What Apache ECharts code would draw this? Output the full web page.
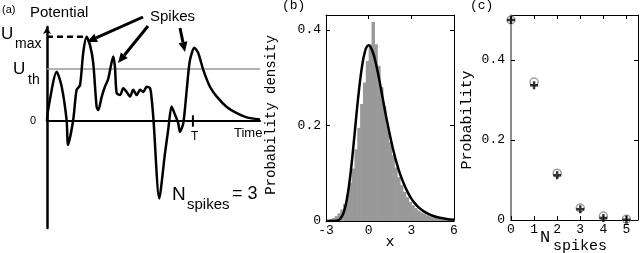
<!DOCTYPE html>
<html><head><meta charset="utf-8">
<script src="https://cdn.jsdelivr.net/npm/echarts@6/dist/echarts.min.js"></script>
<style>html,body{margin:0;padding:0;background:#fff}#c{width:640px;height:253px}</style>
</head><body><div id="c"></div>
<script>
// ---------- Panel (a): schematic potential trace ----------
const traceTime = [0, 0.05, 0.455, 0.69, 0.92, 0.99, 1.23, 1.39, 1.55, 1.70, 1.86, 2.02, 2.17, 2.33, 2.41, 2.57, 2.72, 2.86, 2.96, 3.11, 3.19, 3.27, 3.43, 3.58, 3.74, 3.90, 4.05, 4.21, 4.37, 4.52, 4.68, 4.84, 4.92, 5.0, 5.27, 5.54, 5.69, 5.85, 6.01, 6.16, 6.24, 6.40, 6.56, 6.71, 6.92, 7.10, 7.34, 7.65, 7.97, 8.44, 8.91, 9.38, 10.0];
const tracePotential = [0, 0.21, 0.95, 0.66, 0.02, -0.46, 0.02, 0.60, 0.69, 1.31, 1.62, 1.46, 1.12, 0.27, 0.21, 0.47, 0.66, 0.79, 0.98, 1.24, 1.04, 0.54, 0.50, 0.63, 0.56, 0.47, 0.60, 0.50, 0.60, 0.56, 0.66, 0.63, 0.40, 0.02, -1.49, -0.62, -0.17, 0.28, 0.12, -0.04, -0.21, -0.04, 0.60, 1.17, 1.41, 1.31, 0.98, 0.66, 0.47, 0.27, 0.15, 0.07, 0.03];
const uThreshold = 1.0;
const uMax = 1.62;
const tMaxPeak = 1.86;
const tObservation = 6.85;

// ---------- Panel (b): histogram + density ----------
const histStart = -3;
const histBinWidth = 0.2;
const histDensity = [0.002, 0.004, 0.006, 0.010, 0.016, 0.024, 0.036, 0.055, 0.080, 0.110, 0.150, 0.195, 0.245, 0.290, 0.335, 0.370, 0.417, 0.370, 0.325, 0.280, 0.240, 0.200, 0.165, 0.138, 0.112, 0.092, 0.075, 0.061, 0.050, 0.040, 0.033, 0.027, 0.022, 0.018, 0.015, 0.012, 0.010, 0.008, 0.0065, 0.005, 0.004, 0.0033, 0.0026, 0.002, 0.0015];
const curveX = [-3, -2.75, -2.5, -2.25, -2, -1.75, -1.5, -1.25, -1, -0.75, -0.5, -0.25, 0, 0.25, 0.5, 0.75, 1, 1.25, 1.5, 1.75, 2, 2.25, 2.5, 2.75, 3, 3.25, 3.5, 3.75, 4, 4.5, 5, 5.5, 6];
const curveDensity = [0, 0, 0.0001, 0.0007, 0.0046, 0.018, 0.051, 0.106, 0.179, 0.255, 0.317, 0.356, 0.368, 0.357, 0.331, 0.295, 0.255, 0.215, 0.179, 0.146, 0.118, 0.095, 0.076, 0.060, 0.047, 0.037, 0.029, 0.023, 0.018, 0.011, 0.0067, 0.0041, 0.0025];

// ---------- Panel (c): spike-count probabilities ----------
const nSpikes = [0, 1, 2, 3, 4, 5];
const probCircle = [0.5, 0.345, 0.117, 0.030, 0.010, 0.002];
const probPlus = [0.5, 0.337, 0.112, 0.027, 0.005, 0.001];

const SANS = 'Liberation Sans';
const MONO = 'Liberation Mono';

const histBins = histDensity.map((v, i) => [histStart + i * histBinWidth, histStart + (i + 1) * histBinWidth, v]);

function arrow(x1, y1, x2, y2) {
  const ang = Math.atan2(y2 - y1, x2 - x1);
  const L = 10, W = 4.5;
  const bx = x2 - L * Math.cos(ang), by = y2 - L * Math.sin(ang);
  const px = -Math.sin(ang) * W, py = Math.cos(ang) * W;
  return [
    {type: 'line', shape: {x1, y1, x2: bx, y2: by}, style: {stroke: '#000', lineWidth: 3}},
    {type: 'polygon', shape: {points: [[x2, y2], [bx + px, by + py], [bx - px, by - py]]}, style: {fill: '#000'}}
  ];
}
function txt(x, y, text, size, family, align, rot) {
  return {type: 'text', x, y, rotation: rot || 0, style: {text, font: size + 'px "' + family + '"', fill: '#000', align: align || 'left', verticalAlign: 'middle'}};
}

const plusPath = 'path://M3.5,0h3v3.5h3.5v3h-3.5v3.5h-3v-3.5h-3.5v-3h3.5z';
const monoLabel = {fontFamily: MONO, fontSize: 13, color: '#000', showMaxLabel: false};
const boxTick = {inside: true, length: 4, lineStyle: {color: '#000'}};
const noLabel = {show: false};
const noSplit = {show: false};

const option = {
  animation: false,
  grid: [
    {left: 47, top: 27, width: 213, height: 201},
    {left: 326, top: 15, width: 128, height: 206},
    {left: 511, top: 15, width: 127, height: 205}
  ],
  xAxis: [
    {gridIndex: 0, type: 'value', min: 0, max: 10, axisLine: {onZero: true, lineStyle: {color: '#000', width: 2}}, axisTick: {show: false}, axisLabel: noLabel, splitLine: noSplit},
    {gridIndex: 1, type: 'value', min: -3, max: 6, interval: 3, axisLine: {onZero: false, lineStyle: {color: '#000', width: 1}}, axisTick: boxTick, axisLabel: Object.assign({}, monoLabel, {margin: 3, showMaxLabel: true}), splitLine: noSplit},
    {gridIndex: 1, type: 'value', position: 'top', min: -3, max: 6, interval: 3, axisLine: {onZero: false, lineStyle: {color: '#000', width: 1}}, axisTick: boxTick, axisLabel: noLabel, splitLine: noSplit},
    {gridIndex: 2, type: 'value', min: 0, max: 5.5, interval: 1, axisLine: {onZero: false, lineStyle: {color: '#000', width: 1}}, axisTick: boxTick, axisLabel: Object.assign({}, monoLabel, {margin: 3}), splitLine: noSplit},
    {gridIndex: 2, type: 'value', position: 'top', min: 0, max: 5.5, interval: 1, axisLine: {onZero: false, lineStyle: {color: '#000', width: 1}}, axisTick: boxTick, axisLabel: noLabel, splitLine: noSplit}
  ],
  yAxis: [
    {gridIndex: 0, type: 'value', min: -2.06, max: 1.81, axisLine: {onZero: false, symbol: ['none', 'arrow'], symbolSize: [6, 7], lineStyle: {color: '#000', width: 2.5}}, axisTick: {show: false}, axisLabel: noLabel, splitLine: noSplit},
    {gridIndex: 1, type: 'value', min: 0, max: 0.4314, interval: 0.2, axisLine: {onZero: false, lineStyle: {color: '#000', width: 1}}, axisTick: boxTick, axisLabel: Object.assign({}, monoLabel, {margin: 5}), splitLine: noSplit},
    {gridIndex: 1, type: 'value', position: 'right', min: 0, max: 0.4314, interval: 0.2, axisLine: {onZero: false, lineStyle: {color: '#000', width: 1}}, axisTick: boxTick, axisLabel: noLabel, splitLine: noSplit},
    {gridIndex: 2, type: 'value', min: 0, max: 0.5125, interval: 0.2, axisLine: {onZero: false, lineStyle: {color: '#666', width: 1.5}}, axisTick: boxTick, axisLabel: Object.assign({}, monoLabel, {margin: 6}), splitLine: noSplit},
    {gridIndex: 2, type: 'value', position: 'right', min: 0, max: 0.5125, interval: 0.2, axisLine: {onZero: false, lineStyle: {color: '#000', width: 1}}, axisTick: boxTick, axisLabel: noLabel, splitLine: noSplit}
  ],
  series: [
    // panel (a)
    {type: 'line', xAxisIndex: 0, yAxisIndex: 0, data: [[0, uThreshold], [10, uThreshold]], symbol: 'none', lineStyle: {color: '#999', width: 1.5}, z: 1},
    {type: 'line', xAxisIndex: 0, yAxisIndex: 0, data: [[0, uMax], [tMaxPeak, uMax]], symbol: 'none', lineStyle: {color: '#000', width: 2.5, type: [6, 4]}, z: 2},
    {type: 'line', xAxisIndex: 0, yAxisIndex: 0, data: [[tObservation, 0.11], [tObservation, -0.11]], symbol: 'none', lineStyle: {color: '#000', width: 2}, z: 2},
    {type: 'line', xAxisIndex: 0, yAxisIndex: 0, data: traceTime.map((t, i) => [t, tracePotential[i]]), symbol: 'none', smooth: 0.25, lineStyle: {color: '#000', width: 2.5}, z: 3},
    // panel (b)
    {type: 'custom', xAxisIndex: 1, yAxisIndex: 1, data: histBins, z: 1,
      renderItem: function (params, api) {
        const p0 = api.coord([api.value(0), api.value(2)]);
        const p1 = api.coord([api.value(1), 0]);
        return {type: 'rect', shape: {x: p0[0], y: p0[1], width: p1[0] - p0[0] + 0.6, height: p1[1] - p0[1]}, style: {fill: '#999'}};
      }},
    {type: 'line', xAxisIndex: 1, yAxisIndex: 1, data: curveX.map((x, i) => [x, curveDensity[i]]), symbol: 'none', smooth: 0.4, lineStyle: {color: '#000', width: 2.5}, z: 2},
    // panel (c)
    {type: 'scatter', xAxisIndex: 3, yAxisIndex: 3, data: nSpikes.map((n, i) => [n, probCircle[i]]), symbol: 'circle', symbolSize: 8, itemStyle: {color: 'rgba(0,0,0,0)', borderColor: '#888', borderWidth: 1.5}, clip: false, z: 2},
    {type: 'scatter', xAxisIndex: 3, yAxisIndex: 3, data: nSpikes.map((n, i) => [n, probPlus[i]]), symbol: plusPath, symbolSize: 8, itemStyle: {color: '#000'}, clip: false, z: 3}
  ],
  graphic: [
    txt(2, 10, '(a)', 11, SANS),
    txt(30, 13, 'Potential', 15, SANS),
    txt(150, 17, 'Spikes', 15, SANS),
    txt(1, 34, 'U', 17, SANS),
    txt(15, 44, 'max', 14, SANS),
    txt(13, 69, 'U', 17, SANS),
    txt(28, 80, 'th', 14, SANS),
    txt(30, 121, '0', 11, SANS),
    txt(234, 133, 'Time', 13, SANS),
    txt(191, 137, 'T', 12, SANS),
    txt(172, 195, 'N', 19, SANS),
    txt(187, 205, 'spikes', 15, SANS),
    txt(232, 194, '= 3', 18, SANS),
    txt(282, 6, '(b)', 13, MONO),
    txt(470, 6, '(c)', 13, MONO),
    txt(271, 115, 'Probability density', 14, MONO, 'center', Math.PI / 2),
    txt(467, 120, 'Probability', 15, MONO, 'center', Math.PI / 2),
    txt(390, 242, 'x', 15, MONO, 'center'),
    txt(540, 237, 'N', 17, MONO),
    txt(553, 246, 'spikes', 15, MONO),
    ...arrow(143, 17, 87, 42),
    ...arrow(148, 26, 118, 63),
    ...arrow(180, 28, 185, 52)
  ]
};
const chart = echarts.init(document.getElementById('c'), null, {renderer: 'canvas'});
chart.setOption(option);
</script></body></html>
